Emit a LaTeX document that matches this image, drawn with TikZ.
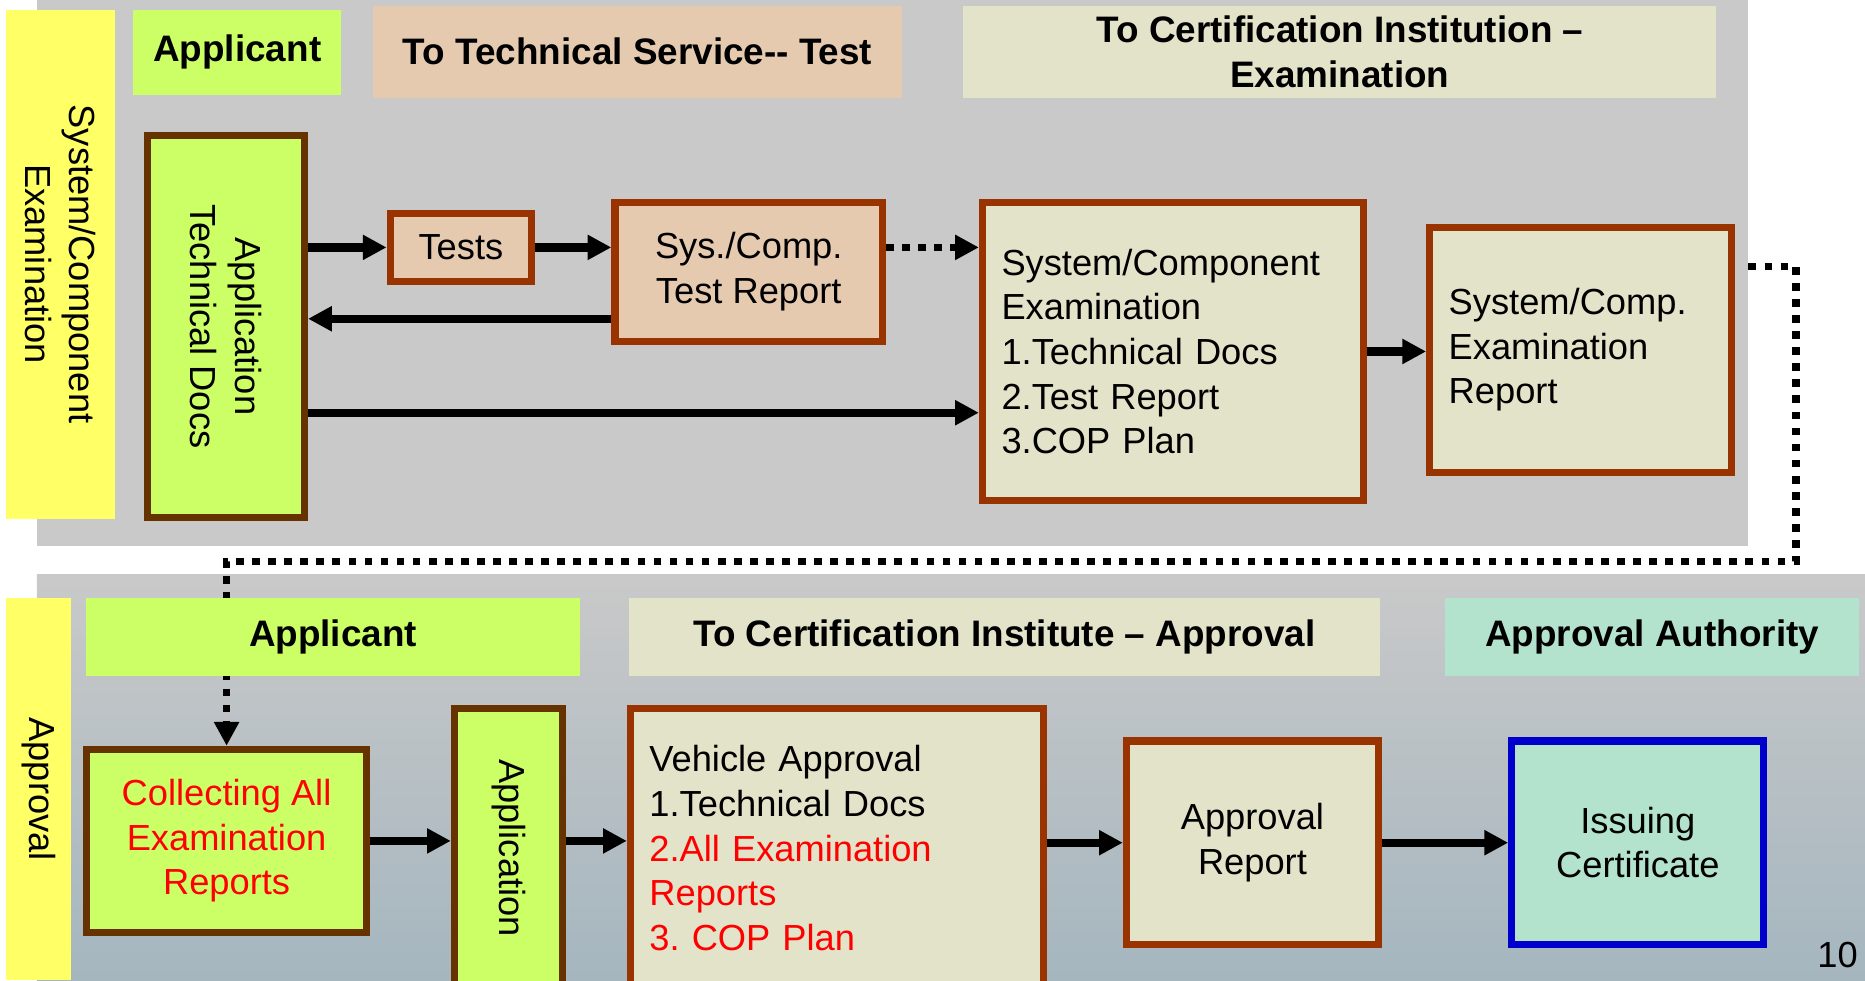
\documentclass[tikz,border=0pt]{standalone}
\usepackage{fontspec}
\setmainfont{Liberation Sans}
\usetikzlibrary{arrows.meta}
\definecolor{panelgray}{HTML}{C9C9C9}
\definecolor{panelblue}{HTML}{A5B6BF}
\definecolor{lblyellow}{HTML}{FFFF66}
\definecolor{lime}{HTML}{CCFF66}
\definecolor{peach}{HTML}{E5CAB0}
\definecolor{beige}{HTML}{E3E3C9}
\definecolor{mint}{HTML}{B3E3CC}
\definecolor{darkbrown}{HTML}{663300}
\definecolor{rust}{HTML}{993300}
\definecolor{certblue}{HTML}{0000CC}
\tikzset{
  >={Triangle[length=20pt,width=20pt]},
  every node/.style={font=\frenchspacing\fontsize{30.5}{37.5}\selectfont},
  hdr/.style={fill=#1,inner sep=0pt,align=center,font=\bfseries\fontsize{31}{37.5}\selectfont},
  box/.style={draw=#1,line width=6pt,inner sep=0pt},
  flow/.style={->,line width=7pt},
  dots/.style={->,line width=6.5pt,dash pattern=on 6.5pt off 7pt},
}

\begin{document}
\begin{tikzpicture}[x=1pt,y=-1pt]
  \useasboundingbox (0,0) rectangle (1568,824);
  \fill[white] (0,0) rectangle (1568,824);
  % background panels
  \fill[panelgray] (31,0) rectangle (1470,459);
  \shade[top color=panelgray,middle color=panelgray,bottom color=panelblue] (31,483) rectangle (1568,824);

  % system / component examination
  \node[hdr=lblyellow,rotate=-90,minimum width=428pt,minimum height=92pt,font=\fontsize{30.5}{37.5}\selectfont] (syslbl) at (51,222) {System/Component\\Examination};
  \node[hdr=lime,minimum width=175pt,minimum height=72pt] (applA) at (199.5,44) {Applicant};
  \node[hdr=peach,minimum width=444pt,minimum height=77pt] (techsrv) at (536,43.5) {To Technical Service-{}- Test};
  \node[hdr=beige,minimum width=633pt,minimum height=77pt] (certexam) at (1126.5,43.5) {To Certification Institution –\\Examination};

  \node[box=darkbrown,fill=lime,rotate=-90,minimum width=321pt,minimum height=132pt,align=center] (appdocs) at (190,274.5) {Application\\Technical Docs};
  \node[box=rust,fill=peach,minimum width=119pt,minimum height=57pt] (tests) at (387.5,208) {Tests};
  \node[box=rust,fill=peach,minimum width=225pt,minimum height=117pt,align=center] (tstrep) at (629.5,228.5) {Sys./Comp.\\Test Report};
  \node[box=rust,fill=beige,text width=288pt,inner xsep=16pt,minimum height=251pt,align=left] (exam) at (986,295.5) {System/Component\\Examination\\1.Technical Docs\\2.Test Report\\3.COP Plan};
  \node[box=rust,fill=beige,text width=222pt,inner xsep=16pt,minimum height=206pt,align=left] (exrep) at (1329,294) {System/Comp.\\Examination\\Report};

  \draw[flow] (appdocs.north |- tests) -- (tests.west);
  \draw[flow] (tests.east) -- (tests.east -| tstrep.west);
  \draw[dots] (tstrep.east |- tests) -- (exam.west |- tests);
  \coordinate (back) at ([yshift=-39.5pt]tstrep.west);
  \draw[flow] (back) -- (appdocs.north |- back);
  \coordinate (direct) at ([yshift=-51.5pt]exam.west);
  \draw[flow] (appdocs.north |- direct) -- (direct);
  \draw[flow] (exam.east) -- (exam.east -| exrep.west);

  % approval
  \node[hdr=lblyellow,rotate=-90,minimum width=321pt,minimum height=55pt,font=\fontsize{30.5}{37.5}\selectfont] (apprlbl) at (32.5,663.5) {Approval};
  \node[box=darkbrown,fill=lime,minimum width=235pt,minimum height=154pt,align=center,text=red] (collect) at (190.5,707) {Collecting All\\Examination\\Reports};
  \node[box=darkbrown,fill=lime,rotate=-90,minimum width=234pt,minimum height=91pt] (appl) at (427.5,713) {Application};
  \node[box=rust,fill=beige,text width=315pt,inner xsep=16pt,minimum height=234pt,align=left] (vehicle) at (703.5,713) {Vehicle Approval\\1.Technical Docs\\\textcolor{red}{2.All Examination}\\\textcolor{red}{Reports}\\\textcolor{red}{3. COP Plan}};
  \node[box=rust,fill=beige,minimum width=212pt,minimum height=171pt,align=center] (apprep) at (1053,708.5) {Approval\\Report};
  \node[box=certblue,fill=mint,minimum width=212pt,minimum height=171pt,align=center] (issue) at (1377,708.5) {Issuing\\Certificate};

  \draw[flow] (collect.east) -- (collect.east -| appl.south);
  \draw[flow] (appl.north |- collect) -- (vehicle.west |- collect);
  \draw[flow] (vehicle.east |- apprep) -- (apprep.west);
  \draw[flow] (apprep.east) -- (issue.west);

  % link between the two parts, behind the header
  \coordinate (turn) at (1510,472);
  \draw[dots,shorten <=11pt] ([yshift=70pt]exrep.east) -| (turn) -| (collect.north);

  \node[hdr=lime,minimum width=416pt,minimum height=65pt] (applB) at (280,535.5) {Applicant};
  \node[hdr=beige,minimum width=631pt,minimum height=65pt] (certapp) at (844.5,535.5) {To Certification Institute – Approval};
  \node[hdr=mint,minimum width=348pt,minimum height=65pt] (authority) at (1389,535.5) {Approval Authority};

  \node (pagenum) at (1545,803) {10};
\end{tikzpicture}
\end{document}
